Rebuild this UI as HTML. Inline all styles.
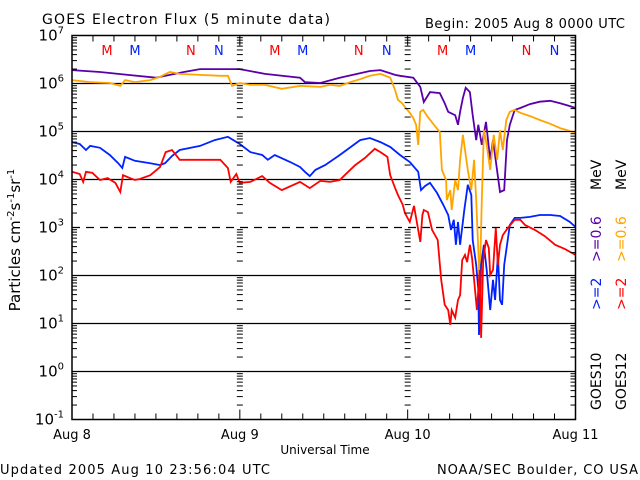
<!DOCTYPE html>
<html><head><meta charset="utf-8"><style>
body{margin:0;background:#fff;}
svg{display:block;font-family:"DejaVu Sans","Liberation Sans",sans-serif;}
</style></head><body>
<svg id="c" width="640" height="480" viewBox="0 0 640 480">
<rect width="640" height="480" fill="#fff"/>
<text x="42" y="24" font-size="14" textLength="288" lengthAdjust="spacing">GOES Electron Flux (5 minute data)</text>
<text x="425" y="28" font-size="13" textLength="200" lengthAdjust="spacing">Begin: 2005 Aug 8 0000 UTC</text>
<text transform="translate(20,240) rotate(-90)" font-size="15" text-anchor="middle">Particles cm<tspan font-size="10" dy="-6">-2</tspan><tspan dy="6">s</tspan><tspan font-size="10" dy="-6">-1</tspan><tspan dy="6">sr</tspan><tspan font-size="10" dy="-6">-1</tspan></text>
<text x="325" y="454" font-size="12" text-anchor="middle">Universal Time</text>
<text x="0" y="474" font-size="13" textLength="270" lengthAdjust="spacing">Updated 2005 Aug 10 23:56:04 UTC</text>
<text x="437" y="474" font-size="13" textLength="201" lengthAdjust="spacing">NOAA/SEC Boulder, CO USA</text>
<g id="grid"></g><g id="series"></g><g id="axes"></g><g id="legend"></g>
</svg>
<script>
const NS="http://www.w3.org/2000/svg";
const dayLabels=["Aug 8","Aug 9","Aug 10","Aug 11"];
const decades=[7,6,5,4,3,2,1,0,-1];
const markerLabels=["M","M","N","N","M","M","N","N","M","M","N","N"];
const markerHours=[5,9,17,21,29,33,41,45,53,57,65,69];
const markerSat=["12","10","12","10","12","10","12","10","12","10","12","10"];

const purpleT=[0,4.0,8.0,12.0,16.0,18.3,24.0,27.6,32.6,33.3,35.5,38.3,42.6,44.1,46.2,46.9,48.8,49.8,50.3,51.2,52.6,53.3,53.8,54.8,55.2,55.5,55.9,56.3,56.9,57.3,57.8,58.1,58.6,59.2,59.8,60.2,61.2,61.8,62.2,62.6,63.3,64.1,65.5,66.9,68.4,69.8,71.2,72];
const purpleV=[6.28,6.24,6.18,6.12,6.24,6.30,6.30,6.20,6.12,6.03,6.01,6.12,6.26,6.28,6.18,6.16,6.12,5.93,5.615,5.82,5.80,5.59,5.41,5.34,5.14,5.41,5.70,5.91,5.82,5.34,4.82,5.14,4.72,5.20,4.41,4.82,3.74,3.78,4.82,5.14,5.45,5.49,5.57,5.62,5.64,5.59,5.53,5.49];
const orangeT=[0,2.6,5.4,6.9,7.6,9.0,11.2,12.6,14.0,15.4,18.3,21.2,22.3,22.9,24.0,25.5,27.6,30.0,32.6,35.5,36.9,38.3,39.8,41.2,42.6,44.1,45.5,46.2,46.6,47.2,47.6,48.3,48.8,49.2,49.5,49.8,50.2,50.9,51.9,52.6,52.9,53.5,53.6,54.1,54.3,54.8,55.2,55.5,55.9,56.2,56.6,57.1,57.5,57.8,58.1,58.3,58.6,58.9,59.3,59.8,60.3,60.8,61.2,61.6,62.1,62.6,63.3,64.1,65.5,66.9,68.4,69.8,71.2,72];
const orangeV=[6.07,6.03,6.01,5.95,6.07,6.03,6.07,6.14,6.24,6.20,6.18,6.16,6.16,5.95,6.01,5.97,5.97,5.89,5.95,5.93,5.97,5.95,6.03,6.09,6.16,6.20,6.12,5.865,5.66,5.59,5.51,5.39,5.28,5.14,4.72,5.41,5.45,5.30,5.115,4.99,4.20,3.99,3.57,3.78,3.365,3.99,3.78,4.41,4.93,4.615,4.20,3.78,4.41,3.57,2.53,1.76,3.57,5.03,4.72,4.20,4.93,4.41,5.03,4.615,5.24,5.41,5.45,5.39,5.32,5.24,5.16,5.07,5.01,4.97];
const blueT=[0,1.1,2.0,2.6,4.0,5.4,6.6,7.2,7.6,9.0,11.2,12.6,13.3,14.3,15.4,18.3,20.4,22.3,24.0,25.5,27.2,28.0,29.0,31.2,32.6,33.3,34.0,34.8,36.2,38.3,41.2,42.6,44.1,45.5,46.9,48.3,49.5,49.9,50.5,51.2,52.2,53.1,53.8,54.2,54.6,54.9,55.2,55.5,56.1,56.6,57.1,57.3,57.8,58.1,58.2,58.5,58.9,59.3,59.8,60.2,60.5,60.9,61.2,61.5,61.8,62.1,62.6,63.3,64.1,65.5,66.9,68.4,69.8,71.2,72];
const blueV=[4.78,4.74,4.615,4.70,4.66,4.51,4.34,4.24,4.47,4.39,4.34,4.30,4.34,4.49,4.615,4.70,4.82,4.89,4.74,4.57,4.51,4.41,4.51,4.365,4.26,4.16,4.07,4.20,4.30,4.51,4.82,4.865,4.78,4.68,4.51,4.365,4.16,3.78,3.865,3.93,3.72,3.47,3.26,2.95,3.16,2.64,3.115,2.64,3.365,3.89,3.68,2.74,2.22,1.70,0.76,2.22,2.64,2.115,1.28,1.91,1.49,2.43,1.49,1.39,2.22,2.53,3.05,3.20,3.20,3.22,3.26,3.26,3.24,3.115,3.01];
const redT=[0,1.1,1.6,2.0,2.9,4.0,5.1,6.2,6.9,7.3,8.3,9.0,9.7,11.2,12.6,13.4,14.3,15.4,18.3,21.2,22.3,22.7,23.5,24.0,25.5,27.2,28.3,30.0,32.6,34.0,35.5,36.9,38.3,39.0,40.5,41.9,43.3,44.1,45.1,45.5,46.2,46.6,47.3,47.6,48.3,48.9,49.5,49.8,50.1,50.3,50.9,51.5,52.3,52.8,53.3,53.8,54.1,54.3,54.8,55.2,55.5,55.8,56.2,56.5,56.9,57.2,57.5,57.9,58.3,58.5,58.8,59.2,59.6,59.8,60.2,60.6,60.9,61.2,61.6,62.3,63.3,64.1,64.8,66.2,67.6,69.1,70.5,72];
const redV=[4.16,4.115,3.95,4.16,4.14,3.99,4.03,3.93,3.74,4.09,4.03,3.99,4.01,4.09,4.26,4.57,4.615,4.41,4.41,4.41,4.24,3.95,4.115,3.93,3.95,4.07,3.93,3.78,3.95,3.82,3.97,3.95,3.99,4.09,4.30,4.45,4.64,4.57,4.47,4.09,3.82,3.68,3.47,3.30,3.115,3.45,2.95,2.70,3.26,3.365,3.32,2.95,2.74,1.91,1.39,1.28,0.97,1.28,1.12,1.49,1.59,2.32,2.43,2.28,2.64,2.37,1.91,1.28,2.115,0.70,2.32,2.74,2.57,2.01,2.115,2.99,2.22,2.64,2.84,2.99,3.16,3.16,3.05,2.95,2.82,2.64,2.55,2.43];

const L=72,R=575.5,T=35.5,B=419.5;
const xs=h=>L+(R-L)*h/72;
const ys=v=>T+(7-v)*(B-T)/8;
function mk(tag,attrs,parent){const e=document.createElementNS(NS,tag);for(const k in attrs)e.setAttribute(k,attrs[k]);document.getElementById(parent).appendChild(e);return e;}

decades.forEach(d=>{ if(d===7||d===-1) return;
  const g=mk('line',{x1:L,x2:R,y1:ys(d),y2:ys(d),stroke:'#000','stroke-width':1.3,'stroke-dasharray':d===3?'8,6':'none'},'grid');
  
  
});
const series=[[purpleT,purpleV,'#5a00aa','purple-goes10-0.6mev'],[orangeT,orangeV,'#ffa500','orange-goes12-0.6mev'],[blueT,blueV,'#0022ff','blue-goes10-2mev'],[redT,redV,'#ff0000','red-goes12-2mev']];
series.forEach(s=>{
  let d='';s[0].forEach((t,i)=>{d+=(i?'L':'M')+xs(t).toFixed(1)+' '+ys(s[1][i]).toFixed(1);});
  const p=mk('path',{d:d,fill:'none',stroke:s[2],'stroke-width':1.8,'stroke-linejoin':'miter'},'series');
  
  
});
const box=mk('rect',{x:L,y:T,width:R-L,height:B-T,fill:'none',stroke:'#000','stroke-width':1.5},'axes');


decades.forEach(d=>{
  const y=ys(d);
  const t=mk('text',{x:64,y:y+5,'font-size':15,'text-anchor':'end'},'axes');
  t.innerHTML='10<tspan font-size="10" dy="-7">'+d+'</tspan>';
  
  
  if(d>-1){for(let m=2;m<=9;m++){const yy=ys(d-1+Math.log10(m));
    [[L,L+5],[R-5,R],[xs(24)-3,xs(24)+3],[xs(48)-3,xs(48)+3]].forEach(p=>{
      const tk=mk('line',{x1:p[0],x2:p[1],y1:yy,y2:yy,stroke:'#000','stroke-width':1},'axes');
      
      
    });}}
  [[L,L+8],[R-8,R]].forEach(p=>{const tk=mk('line',{x1:p[0],x2:p[1],y1:y,y2:y,stroke:'#000','stroke-width':1},'axes');
    
    });
});
for(let h=3;h<72;h+=3){const x=xs(h);const len=h%24===0?10:6;
  [[B,B-len],[T,T+len]].forEach(p=>{const tk=mk('line',{x1:x,x2:x,y1:p[0],y2:p[1],stroke:'#000','stroke-width':1},'axes');
    
    });}
dayLabels.forEach((lb,i)=>{const t=mk('text',{x:xs(i*24),y:439,'font-size':13,'text-anchor':'middle'},'axes');t.textContent=lb;
  
  });
markerLabels.forEach((lb,i)=>{const t=mk('text',{x:xs(markerHours[i]),y:55,'font-size':13,'text-anchor':'middle',fill:markerSat[i]==='12'?'#ff0000':'#0022ff'},'axes');t.textContent=lb;
  
  });
const leg=[[601,410,'GOES10','#000'],[601,310,'>=2','#0022ff'],[601,262,'>=0.6','#5a00aa'],[601,190,'MeV','#000'],
           [626,410,'GOES12','#000'],[626,310,'>=2','#ff0000'],[626,262,'>=0.6','#ffa500'],[626,190,'MeV','#000']];
leg.forEach(l=>{const t=mk('text',{transform:'translate('+l[0]+','+l[1]+') rotate(-90)','font-size':14,fill:l[3]},'legend');t.textContent=l[2];
  
  });
</script>
</body></html>
